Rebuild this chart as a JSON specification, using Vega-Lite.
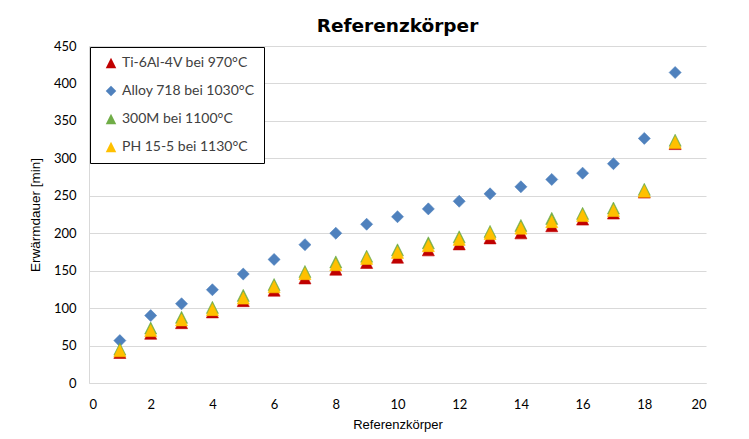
{
  "$schema": "https://vega.github.io/schema/vega-lite/v6.json",
  "autosize": "none",
  "width": 617,
  "height": 337,
  "padding": {"left": 89, "top": 46, "right": 43, "bottom": 56},
  "background": "white",
  "title": {
    "text": "Referenzkörper",
    "fontSize": 18.5,
    "font": "DejaVu Sans",
    "fontWeight": "bold",
    "color": "#000000",
    "anchor": "middle",
    "offset": 5
  },
  "data": {
    "values": [
      {"k": 1, "s": "Ti-6Al-4V bei 970°C", "v": 40.8},
      {"k": 2, "s": "Ti-6Al-4V bei 970°C", "v": 66.4},
      {"k": 3, "s": "Ti-6Al-4V bei 970°C", "v": 80.6},
      {"k": 4, "s": "Ti-6Al-4V bei 970°C", "v": 95},
      {"k": 5, "s": "Ti-6Al-4V bei 970°C", "v": 110},
      {"k": 6, "s": "Ti-6Al-4V bei 970°C", "v": 124},
      {"k": 7, "s": "Ti-6Al-4V bei 970°C", "v": 140.3},
      {"k": 8, "s": "Ti-6Al-4V bei 970°C", "v": 152},
      {"k": 9, "s": "Ti-6Al-4V bei 970°C", "v": 161},
      {"k": 10, "s": "Ti-6Al-4V bei 970°C", "v": 168},
      {"k": 11, "s": "Ti-6Al-4V bei 970°C", "v": 177.8},
      {"k": 12, "s": "Ti-6Al-4V bei 970°C", "v": 185.8},
      {"k": 13, "s": "Ti-6Al-4V bei 970°C", "v": 193.8},
      {"k": 14, "s": "Ti-6Al-4V bei 970°C", "v": 200.5},
      {"k": 15, "s": "Ti-6Al-4V bei 970°C", "v": 210},
      {"k": 16, "s": "Ti-6Al-4V bei 970°C", "v": 218.9},
      {"k": 17, "s": "Ti-6Al-4V bei 970°C", "v": 227},
      {"k": 18, "s": "Ti-6Al-4V bei 970°C", "v": 255},
      {"k": 19, "s": "Ti-6Al-4V bei 970°C", "v": 319.7},
      {"k": 1, "s": "Alloy 718 bei 1030°C", "v": 56.6},
      {"k": 2, "s": "Alloy 718 bei 1030°C", "v": 90},
      {"k": 3, "s": "Alloy 718 bei 1030°C", "v": 105.8},
      {"k": 4, "s": "Alloy 718 bei 1030°C", "v": 124.5},
      {"k": 5, "s": "Alloy 718 bei 1030°C", "v": 145.5},
      {"k": 6, "s": "Alloy 718 bei 1030°C", "v": 165},
      {"k": 7, "s": "Alloy 718 bei 1030°C", "v": 184.7},
      {"k": 8, "s": "Alloy 718 bei 1030°C", "v": 200},
      {"k": 9, "s": "Alloy 718 bei 1030°C", "v": 212},
      {"k": 10, "s": "Alloy 718 bei 1030°C", "v": 222},
      {"k": 11, "s": "Alloy 718 bei 1030°C", "v": 232.5},
      {"k": 12, "s": "Alloy 718 bei 1030°C", "v": 242.7},
      {"k": 13, "s": "Alloy 718 bei 1030°C", "v": 252.6},
      {"k": 14, "s": "Alloy 718 bei 1030°C", "v": 262},
      {"k": 15, "s": "Alloy 718 bei 1030°C", "v": 271.8},
      {"k": 16, "s": "Alloy 718 bei 1030°C", "v": 280.2},
      {"k": 17, "s": "Alloy 718 bei 1030°C", "v": 292.8},
      {"k": 18, "s": "Alloy 718 bei 1030°C", "v": 326.6},
      {"k": 19, "s": "Alloy 718 bei 1030°C", "v": 414.6},
      {"k": 1, "s": "300M bei 1100°C", "v": 45.3},
      {"k": 2, "s": "300M bei 1100°C", "v": 73.4},
      {"k": 3, "s": "300M bei 1100°C", "v": 87.7},
      {"k": 4, "s": "300M bei 1100°C", "v": 101},
      {"k": 5, "s": "300M bei 1100°C", "v": 117},
      {"k": 6, "s": "300M bei 1100°C", "v": 131.5},
      {"k": 7, "s": "300M bei 1100°C", "v": 148.9},
      {"k": 8, "s": "300M bei 1100°C", "v": 161.7},
      {"k": 9, "s": "300M bei 1100°C", "v": 169.3},
      {"k": 10, "s": "300M bei 1100°C", "v": 177.8},
      {"k": 11, "s": "300M bei 1100°C", "v": 187.2},
      {"k": 12, "s": "300M bei 1100°C", "v": 195.2},
      {"k": 13, "s": "300M bei 1100°C", "v": 202.4},
      {"k": 14, "s": "300M bei 1100°C", "v": 210.4},
      {"k": 15, "s": "300M bei 1100°C", "v": 219.8},
      {"k": 16, "s": "300M bei 1100°C", "v": 226.5},
      {"k": 17, "s": "300M bei 1100°C", "v": 233.6},
      {"k": 18, "s": "300M bei 1100°C", "v": 258.6},
      {"k": 19, "s": "300M bei 1100°C", "v": 324.2},
      {"k": 1, "s": "PH 15-5 bei 1130°C", "v": 43},
      {"k": 2, "s": "PH 15-5 bei 1130°C", "v": 70},
      {"k": 3, "s": "PH 15-5 bei 1130°C", "v": 84.3},
      {"k": 4, "s": "PH 15-5 bei 1130°C", "v": 98},
      {"k": 5, "s": "PH 15-5 bei 1130°C", "v": 113.4},
      {"k": 6, "s": "PH 15-5 bei 1130°C", "v": 128.5},
      {"k": 7, "s": "PH 15-5 bei 1130°C", "v": 146},
      {"k": 8, "s": "PH 15-5 bei 1130°C", "v": 158},
      {"k": 9, "s": "PH 15-5 bei 1130°C", "v": 166.4},
      {"k": 10, "s": "PH 15-5 bei 1130°C", "v": 174.4},
      {"k": 11, "s": "PH 15-5 bei 1130°C", "v": 183.4},
      {"k": 12, "s": "PH 15-5 bei 1130°C", "v": 191.8},
      {"k": 13, "s": "PH 15-5 bei 1130°C", "v": 199.5},
      {"k": 14, "s": "PH 15-5 bei 1130°C", "v": 206.8},
      {"k": 15, "s": "PH 15-5 bei 1130°C", "v": 215.5},
      {"k": 16, "s": "PH 15-5 bei 1130°C", "v": 223.6},
      {"k": 17, "s": "PH 15-5 bei 1130°C", "v": 230.3},
      {"k": 18, "s": "PH 15-5 bei 1130°C", "v": 256},
      {"k": 19, "s": "PH 15-5 bei 1130°C", "v": 321.3}
    ]
  },
  "mark": {"type": "point", "filled": true, "opacity": 1, "size": 145, "strokeWidth": 0.6},
  "encoding": {
    "x": {
      "field": "k",
      "type": "quantitative",
      "scale": {"domain": [0, 20], "nice": false, "zero": false},
      "axis": {
        "title": "Referenzkörper",
        "values": [0, 2, 4, 6, 8, 10, 12, 14, 16, 18, 20],
        "grid": false,
        "ticks": false,
        "domainColor": "#d9d9d9",
        "domainWidth": 1,
        "labelFont": "Lato",
        "labelFontSize": 13,
        "labelColor": "#000000",
        "labelPadding": 15,
        "titleFont": "Liberation Sans",
        "titleFontSize": 13,
        "titleFontWeight": "normal",
        "titleColor": "#000000",
        "titlePadding": 7
      }
    },
    "y": {
      "field": "v",
      "type": "quantitative",
      "scale": {"domain": [0, 450], "nice": false},
      "axis": {
        "title": "Erwärmdauer [min]",
        "values": [0, 50, 100, 150, 200, 250, 300, 350, 400, 450],
        "grid": true,
        "gridColor": "#d9d9d9",
        "gridWidth": 1,
        "ticks": false,
        "domainColor": "#d9d9d9",
        "domainWidth": 1,
        "labelFont": "Lato",
        "labelFontSize": 13,
        "labelColor": "#000000",
        "labelPadding": 13,
        "titleFont": "Liberation Sans",
        "titleFontSize": 13.5,
        "titleFontWeight": "normal",
        "titleColor": "#000000",
        "titlePadding": 11
      }
    },
    "color": {
      "field": "s",
      "type": "nominal",
      "sort": null,
      "scale": {
        "domain": ["Ti-6Al-4V bei 970°C", "Alloy 718 bei 1030°C", "300M bei 1100°C", "PH 15-5 bei 1130°C"],
        "range": ["#C00000", "#4F81BD", "#70AD47", "#FFC000"]
      },
      "legend": {
        "title": null,
        "orient": "none",
        "legendX": 1,
        "legendY": 1,
        "fillColor": "white",
        "strokeColor": "#000000",
        "padding": 9,
        "rowPadding": 14,
        "labelFont": "Lato",
        "labelFontSize": 14,
        "labelColor": "#404040",
        "labelOffset": 4,
        "symbolOffset": 5,
        "symbolSize": 110,
        "symbolStrokeWidth": 0
      }
    },
    "shape": {
      "field": "s",
      "type": "nominal",
      "sort": null,
      "scale": {
        "domain": ["Ti-6Al-4V bei 970°C", "Alloy 718 bei 1030°C", "300M bei 1100°C", "PH 15-5 bei 1130°C"],
        "range": ["M-1,1L1,1L0,-1Z", "diamond", "M-1,1L1,1L0,-1Z", "M-1,1L1,1L0,-1Z"]
      }
    },
    "stroke": {
      "field": "s",
      "type": "nominal",
      "sort": null,
      "scale": {
        "domain": ["Ti-6Al-4V bei 970°C", "Alloy 718 bei 1030°C", "300M bei 1100°C", "PH 15-5 bei 1130°C"],
        "range": ["#C00000", "#4F81BD", "#70AD47", "#FFC000"]
      },
      "legend": null
    }
  },
  "config": {
    "view": {"stroke": null}
  }
}
